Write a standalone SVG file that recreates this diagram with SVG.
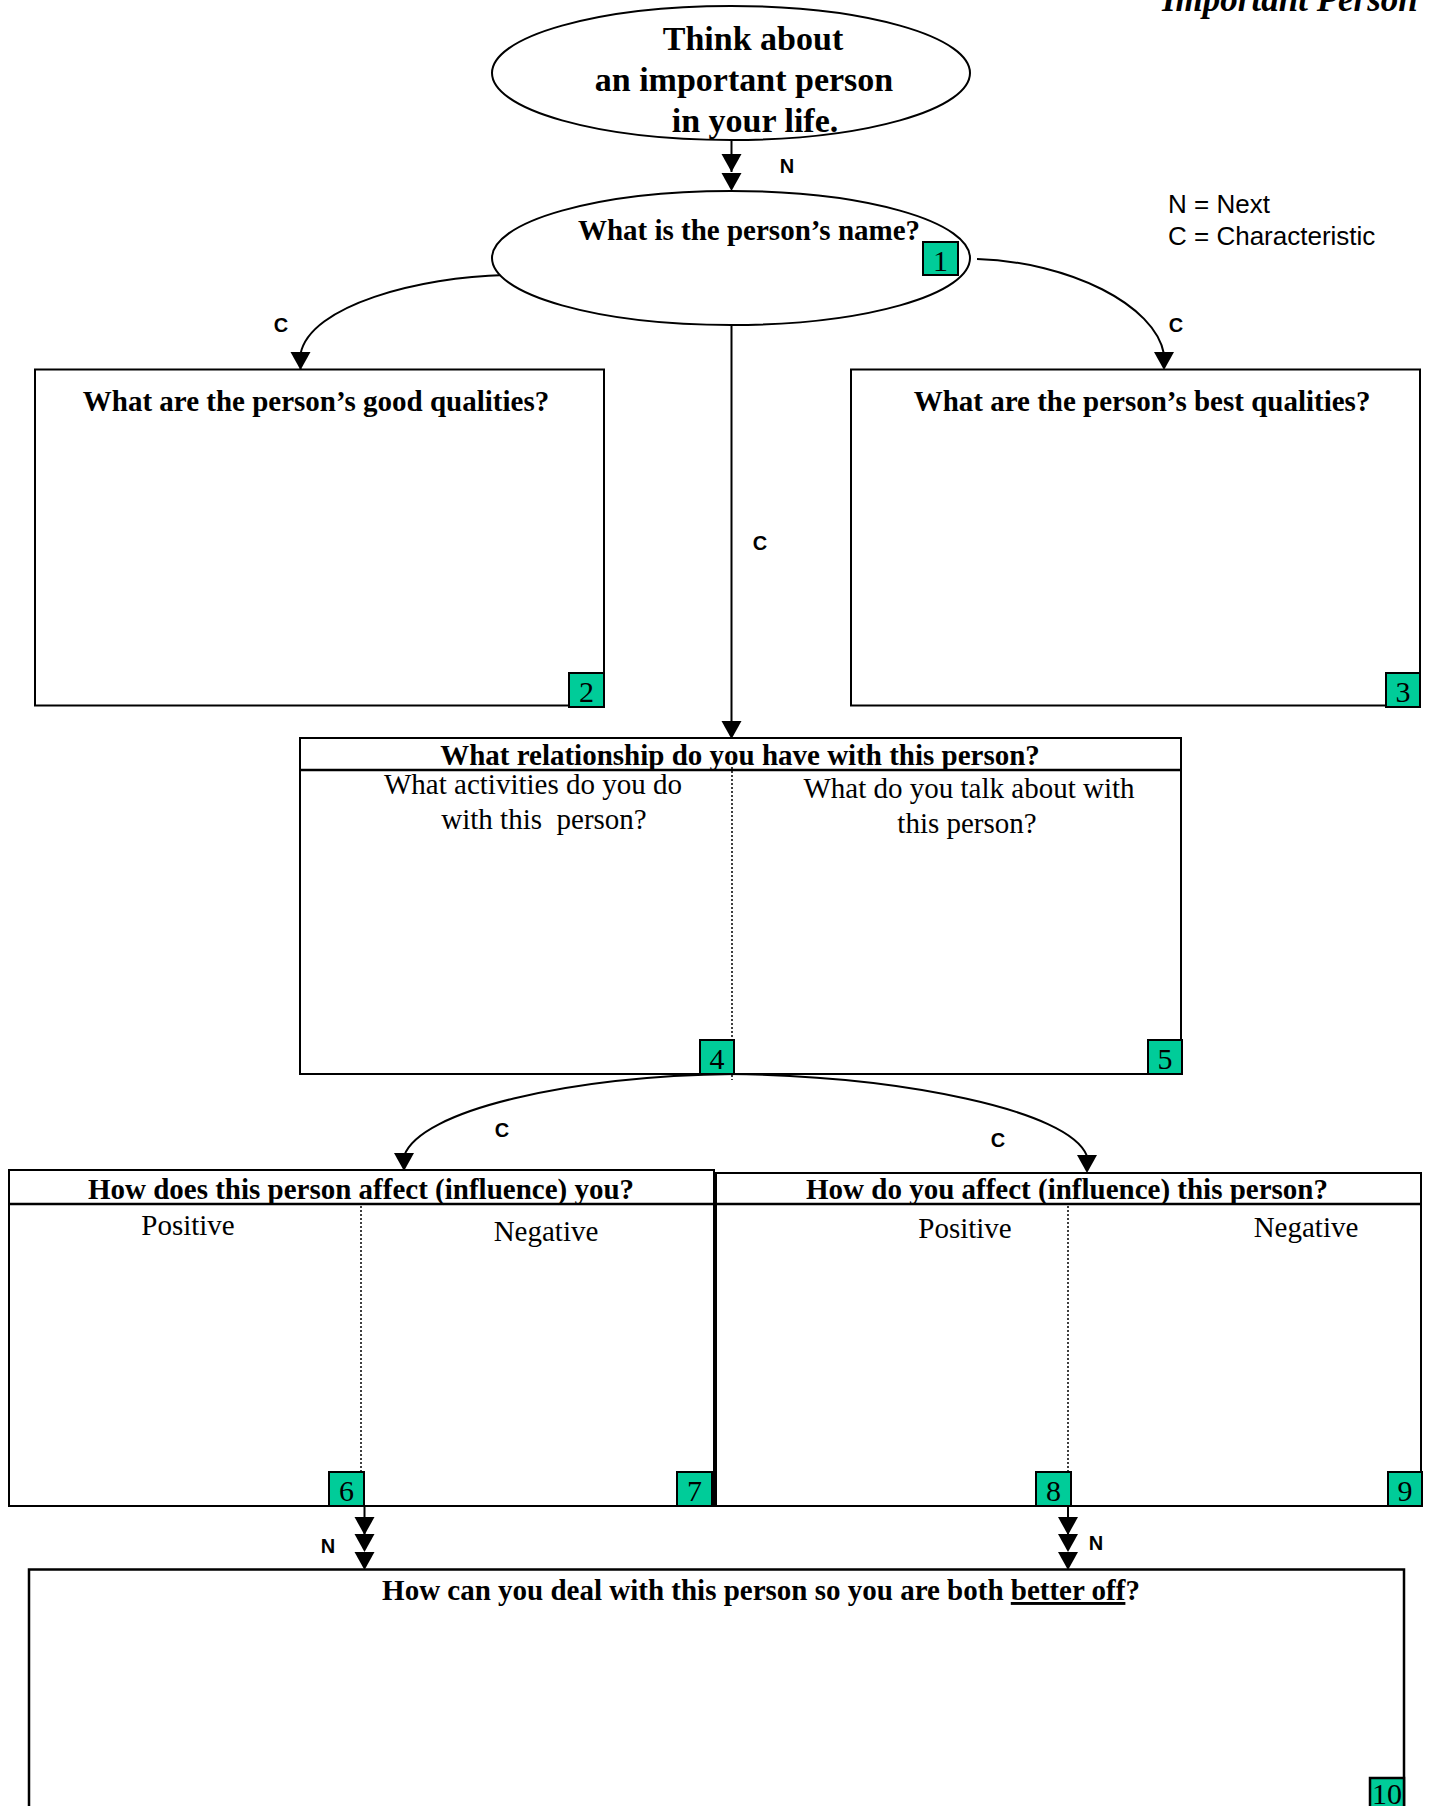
<svg xmlns="http://www.w3.org/2000/svg" xmlns:xlink="http://www.w3.org/1999/xlink" width="1429" height="1806" viewBox="0 0 1429 1806">
<style>
.bg{fill:#ffffff}
.shape{fill:#ffffff;stroke:#000;stroke-width:2}
.div{fill:none;stroke:#000;stroke-width:2.5}
.dot{fill:none;stroke:#000;stroke-width:1.5;stroke-dasharray:2 2}
.conn{fill:none;stroke:#000;stroke-width:2}
.tag{fill:#00cc99;stroke:#000;stroke-width:2}
.tagt{font-family:"Liberation Serif","Times New Roman",serif;font-size:30px;fill:#000;text-anchor:middle}
.hb{font-family:"Liberation Serif","Times New Roman",serif;font-weight:bold;font-size:29px;fill:#000;text-anchor:middle}
.big{font-family:"Liberation Serif","Times New Roman",serif;font-weight:bold;font-size:34px;fill:#000;text-anchor:middle}
.reg{font-family:"Liberation Serif","Times New Roman",serif;font-size:29px;fill:#000;text-anchor:middle}
.lab{font-family:"Liberation Sans",Arial,sans-serif;font-weight:bold;font-size:20px;fill:#000;text-anchor:middle}
.leg{font-family:"Liberation Sans",Arial,sans-serif;font-size:26px;fill:#000}
.title{font-family:"Liberation Serif","Times New Roman",serif;font-style:italic;font-weight:bold;font-size:35px;fill:#000}
</style>
<defs>
<path id="ah" d="M-10,-18 L10,-18 L0,0 Z" fill="#000"/>
</defs>
<rect class="bg" x="0" y="0" width="1429" height="1806"/>

<text class="title" x="1162" y="11">Important Person</text>

<g id="legend">
<text class="leg" x="1168" y="213">N = Next</text>
<text class="leg" x="1168" y="245">C = Characteristic</text>
</g>

<g id="connectors">
<line class="conn" x1="731.5" y1="140" x2="731.5" y2="172"/>
<use xlink:href="#ah" x="731.5" y="172"/>
<use xlink:href="#ah" x="731.5" y="191"/>
<text class="lab" x="787" y="173">N</text>
<path class="conn" d="M505 275 C420 277 310 305 300.5 354"/>
<use xlink:href="#ah" x="300.5" y="370"/>
<line class="conn" x1="300.5" y1="368" x2="300.5" y2="377"/>
<text class="lab" x="281" y="332">C</text>
<path class="conn" d="M977 259 C1070 262 1155 305 1164 354"/>
<use xlink:href="#ah" x="1164" y="370"/>
<text class="lab" x="1176" y="332">C</text>
<line class="conn" x1="731.5" y1="325" x2="731.5" y2="724"/>
<use xlink:href="#ah" x="731.5" y="739"/>
<text class="lab" x="760" y="550">C</text>
<path class="conn" d="M735 1074 C570 1076 420 1110 404 1156"/>
<use xlink:href="#ah" x="404" y="1171"/>
<text class="lab" x="502" y="1137">C</text>
<path class="conn" d="M728 1074 C900 1076 1070 1110 1087 1156"/>
<use xlink:href="#ah" x="1087" y="1173"/>
<text class="lab" x="998" y="1147">C</text>
<line class="conn" x1="364.5" y1="1506" x2="364.5" y2="1535"/>
<use xlink:href="#ah" x="364.5" y="1535"/>
<use xlink:href="#ah" x="364.5" y="1552"/>
<use xlink:href="#ah" x="364.5" y="1570"/>
<text class="lab" x="328" y="1553">N</text>
<line class="conn" x1="1068" y1="1506" x2="1068" y2="1535"/>
<use xlink:href="#ah" x="1068" y="1535"/>
<use xlink:href="#ah" x="1068" y="1552"/>
<use xlink:href="#ah" x="1068" y="1570"/>
<text class="lab" x="1096" y="1550">N</text>
</g>

<g id="node-think">
<ellipse class="shape" cx="731" cy="73" rx="239" ry="67"/>
<text class="big" x="753" y="50">Think about</text>
<text class="big" x="744" y="91">an important person</text>
<text class="big" x="755" y="132">in your life.</text>
</g>

<g id="node-1">
<ellipse class="shape" cx="731" cy="258" rx="239" ry="67"/>
<text class="hb" x="749" y="240">What is the person’s name?</text>
<rect class="tag" x="923" y="242" width="35" height="33"/>
<text class="tagt" x="940.5" y="271">1</text>
</g>

<g id="node-2">
<rect class="shape" x="35" y="369.5" width="569" height="336"/>
<text class="hb" x="316" y="411">What are the person’s good qualities?</text>
<rect class="tag" x="569" y="673" width="35" height="34"/>
<text class="tagt" x="586.5" y="702">2</text>
</g>

<g id="node-3">
<rect class="shape" x="851" y="369.5" width="569" height="336"/>
<text class="hb" x="1142" y="411">What are the person’s best qualities?</text>
<rect class="tag" x="1386" y="673" width="34" height="34"/>
<text class="tagt" x="1403" y="702">3</text>
</g>

<g id="node-4-5">
<rect class="shape" x="300" y="738" width="881" height="336"/>
<line class="div" x1="300" y1="770" x2="1181" y2="770"/>
<text class="hb" x="740" y="765">What relationship do you have with this person?</text>
<line class="dot" x1="732" y1="767" x2="732" y2="1080"/>
<text class="reg" x="533" y="794">What activities do you do</text>
<text class="reg" x="544" y="829" xml:space="preserve">with this  person?</text>
<text class="reg" x="969" y="798">What do you talk about with</text>
<text class="reg" x="967" y="833">this person?</text>
<rect class="tag" x="700" y="1040" width="34" height="34"/>
<text class="tagt" x="717" y="1069">4</text>
<rect class="tag" x="1148" y="1040" width="34" height="34"/>
<text class="tagt" x="1165" y="1069">5</text>
</g>

<g id="node-6-7">
<rect class="shape" x="9" y="1170" width="705" height="336"/>
<line class="div" x1="9" y1="1204" x2="714" y2="1204"/>
<text class="hb" x="361" y="1199">How does this person affect (influence) you?</text>
<line class="dot" x1="361" y1="1206" x2="361" y2="1472"/>
<text class="reg" x="188" y="1235">Positive</text>
<text class="reg" x="546" y="1241">Negative</text>
<rect class="tag" x="329" y="1472" width="35" height="34"/>
<text class="tagt" x="346.5" y="1501">6</text>
<rect class="tag" x="677" y="1472" width="35" height="34"/>
<text class="tagt" x="694.5" y="1501">7</text>
</g>

<g id="node-8-9">
<rect class="shape" x="716" y="1173" width="705" height="333"/>
<line class="div" x1="716" y1="1204" x2="1421" y2="1204"/>
<text class="hb" x="1067" y="1199">How do you affect (influence) this person?</text>
<line class="dot" x1="1068" y1="1206" x2="1068" y2="1472"/>
<text class="reg" x="965" y="1238">Positive</text>
<text class="reg" x="1306" y="1237">Negative</text>
<rect class="tag" x="1036" y="1472" width="35" height="34"/>
<text class="tagt" x="1053.5" y="1501">8</text>
<rect class="tag" x="1388" y="1472" width="34" height="34"/>
<text class="tagt" x="1405" y="1501">9</text>
</g>

<g id="node-10">
<path class="shape" d="M29 1815 L29 1569.5 L1404 1569.5 L1404 1815" style="stroke-width:2.5"/>
<text class="hb" x="761" y="1600">How can you deal with this person so you are both <tspan style="text-decoration:underline">better off</tspan>?</text>
<rect class="tag" x="1370" y="1778" width="34" height="40" style="stroke-width:2.5"/>
<text class="tagt" x="1387" y="1804">10</text>
</g>
</svg>
